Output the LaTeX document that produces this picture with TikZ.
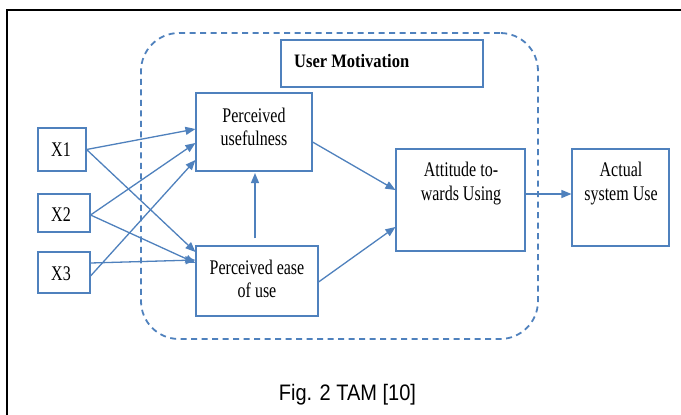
\documentclass[tikz,border=0pt]{standalone}
\usepackage{fontspec}
\setmainfont{Liberation Serif}
\newfontfamily\capfont{Liberation Sans}
\usetikzlibrary{arrows.meta,calc}
\definecolor{bl}{HTML}{4F81BD}
\newcommand{\vsc}[1]{\scalebox{1}[1.3]{#1}}
\begin{document}
\begin{tikzpicture}[x=1pt,y=-1pt,
  box/.style={draw=bl,line width=1.1pt,rectangle,inner sep=0pt},
  ln/.style={font=\fontsize{16}{20}\selectfont,anchor=base,inner sep=0pt},
  arr/.style={draw=bl,line width=1.3pt,-{Triangle[length=10pt,width=8pt]}},
  grp/.style={draw=bl,line width=1.8pt,dash pattern=on 6pt off 4.5pt,rounded corners=38pt}]
\useasboundingbox (0,0) rectangle (681,415);
\fill[white] (0,0) rectangle (681,415);
% frame
\draw[line width=2.4pt,black] (7,415) -- (7,10) -- (681,10);
% group
\node[grp,minimum width=397pt,minimum height=306pt,inner sep=0pt] (grp) at (339.5,186) {};
% boxes
\node[box,minimum width=202pt,minimum height=47pt] (um) at (382,63.5) {};
\node[anchor=base west,inner sep=0pt,font=\fontsize{16.5}{20}\selectfont\bfseries] (umt) at (294,67.5) {\scalebox{1}[1.15]{User Motivation}};
\node[box,minimum width=48pt,minimum height=43pt] (x1) at (62,149.5) {};
\node[box,minimum width=52pt,minimum height=38pt] (x2) at (64,213) {};
\node[box,minimum width=52pt,minimum height=41pt] (x3) at (64,272.5) {};
\node[ln] (x1t) at (61,156.5) {\vsc{X1}};
\node[ln] (x2t) at (61,221.5) {\vsc{X2}};
\node[ln] (x3t) at (61,280) {\vsc{X3}};
\node[box,minimum width=116pt,minimum height=78pt] (pu) at (254,132) {};
\node[box,minimum width=122pt,minimum height=70pt] (peou) at (257,281) {};
\node[box,minimum width=129pt,minimum height=102pt] (atu) at (460.5,200) {};
\node[box,minimum width=97pt,minimum height=97pt] (act) at (620.5,197.5) {};
\node[ln] (put1) at (254,122.5) {\vsc{Perceived}};
\node[ln] (put2) at (254,145.5) {\vsc{usefulness}};
\node[ln] (peout1) at (257,274) {\vsc{Perceived ease}};
\node[ln] (peout2) at (257,297) {\vsc{of use}};
\node[ln] (atut1) at (461,176.5) {\vsc{Attitude to-}};
\node[ln] (atut2) at (461,200) {\vsc{wards Using}};
\node[ln] (actt1) at (621,176.5) {\vsc{Actual}};
\node[ln] (actt2) at (621,200) {\vsc{system Use}};
% arrows
\draw[arr] (x1.east) -- ([yshift=3pt]pu.west);
\draw[arr] (x1.east) -- ([yshift=29pt]peou.west);
\draw[arr] ([yshift=-2pt]x2.east) -- ([yshift=-11pt]pu.west);
\draw[arr] ([yshift=-2pt]x2.east) -- ([yshift=18pt]peou.west);
\draw[arr] ([yshift=9.5pt]x3.east) -- ([yshift=21pt]peou.west);
\draw[arr] ([yshift=-3.5pt]x3.east) -- ([yshift=-28pt]pu.west);
\draw[arr,shorten <=7pt,shorten >=1.5pt] ([xshift=-2pt]peou.north) -- ([xshift=1pt]pu.south);
\draw[arr] ([yshift=-10pt]pu.east) -- ([yshift=10pt]atu.west);
\draw[arr] ([yshift=-1pt]peou.east) -- ([yshift=-27pt]atu.west);
\draw[arr] ([yshift=6pt]atu.east) -- ([yshift=3.5pt]act.west);
% caption
\node[font=\capfont\fontsize{20}{24}\selectfont,inner sep=0pt,anchor=base] (cap) at (347.5,400) {\scalebox{1}[1.12]{Fig. 2 TAM [10]}};
\end{tikzpicture}
\end{document}
